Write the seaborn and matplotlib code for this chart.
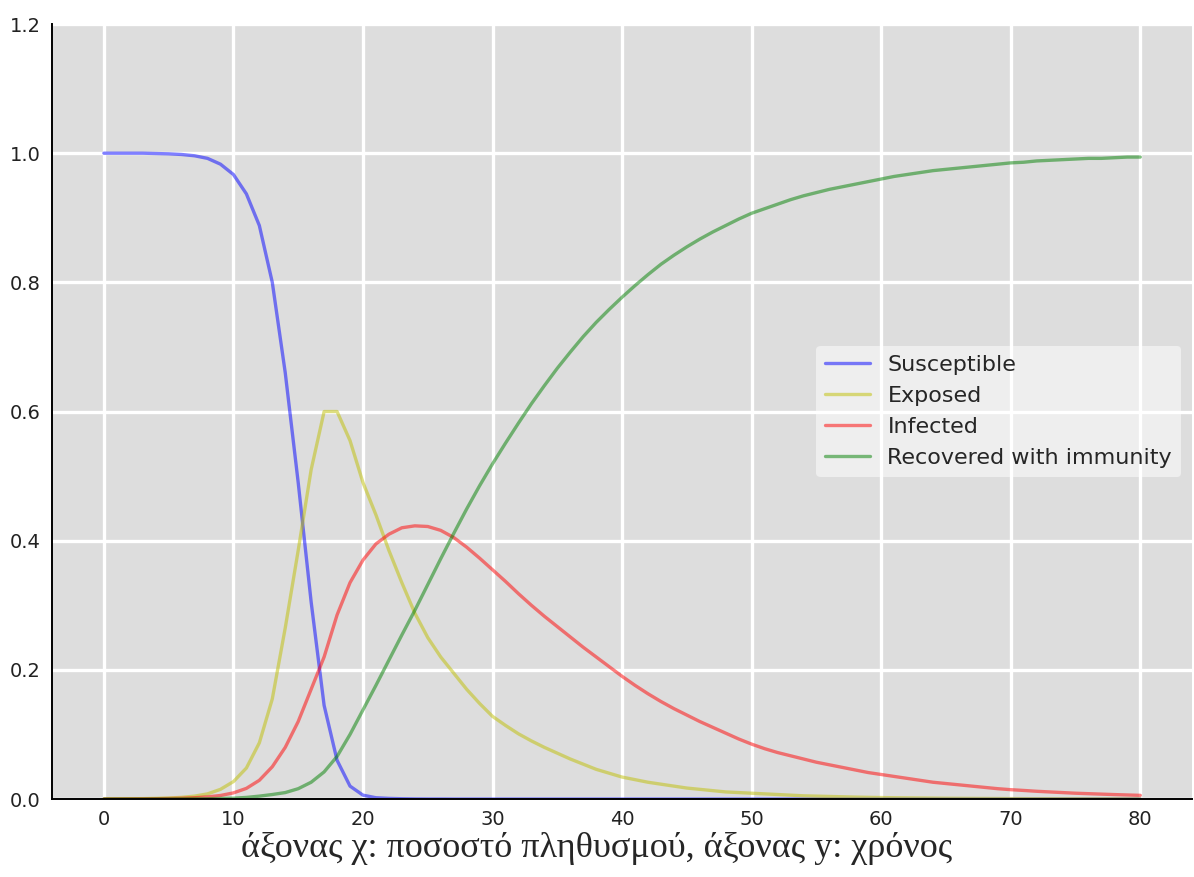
import numpy as np
import pandas as pd
import matplotlib
matplotlib.use("Agg")
import matplotlib.pyplot as plt
import seaborn as sns

# time axis (days)
t = np.arange(0, 81)

susceptible = [
    1.0, 1.0, 1.0, 1.0, 0.9995, 0.999, 0.998, 0.996, 0.992, 0.983,
    0.967, 0.937, 0.888, 0.80, 0.66, 0.49, 0.305, 0.145, 0.06, 0.02,
    0.006, 0.002, 0.001, 0.0005, 0.0002, 0.0001, 0.0001, 0.0, 0.0, 0.0,
    0.0, 0.0, 0.0, 0.0, 0.0, 0.0, 0.0, 0.0, 0.0, 0.0,
    0.0, 0.0, 0.0, 0.0, 0.0, 0.0, 0.0, 0.0, 0.0, 0.0,
    0.0, 0.0, 0.0, 0.0, 0.0, 0.0, 0.0, 0.0, 0.0, 0.0,
    0.0, 0.0, 0.0, 0.0, 0.0, 0.0, 0.0, 0.0, 0.0, 0.0,
    0.0, 0.0, 0.0, 0.0, 0.0, 0.0, 0.0, 0.0, 0.0, 0.0, 0.0,
]

exposed = [
    0.0, 0.0002, 0.0004, 0.0006, 0.001, 0.0016, 0.0026, 0.0045, 0.008, 0.015,
    0.027, 0.048, 0.087, 0.155, 0.265, 0.385, 0.51, 0.60, 0.60, 0.555,
    0.49, 0.44, 0.385, 0.335, 0.288, 0.25, 0.22, 0.195, 0.17, 0.148,
    0.128, 0.114, 0.101, 0.09, 0.08, 0.071, 0.062, 0.054, 0.046, 0.04,
    0.034, 0.03, 0.026, 0.023, 0.02, 0.017, 0.015, 0.013, 0.011, 0.01,
    0.009, 0.008, 0.007, 0.006, 0.005, 0.0045, 0.004, 0.0035, 0.003, 0.0026,
    0.0023, 0.002, 0.0018, 0.0016, 0.0014, 0.0012, 0.0011, 0.001, 0.0009, 0.0008,
    0.0007, 0.0006, 0.0005, 0.0005, 0.0004, 0.0004, 0.0003, 0.0003, 0.0003, 0.0002, 0.0002,
]

infected = [
    0.0, 0.0001, 0.0002, 0.0003, 0.0005, 0.0008, 0.0012, 0.002, 0.0033, 0.0055,
    0.0095, 0.0165, 0.029, 0.05, 0.08, 0.12, 0.17, 0.22, 0.285, 0.335,
    0.37, 0.395, 0.41, 0.42, 0.423, 0.422, 0.416, 0.405, 0.39, 0.373,
    0.355, 0.337, 0.318, 0.30, 0.283, 0.267, 0.251, 0.235, 0.22, 0.205,
    0.19, 0.176, 0.163, 0.151, 0.140, 0.130, 0.120, 0.111, 0.102, 0.093,
    0.085, 0.078, 0.072, 0.067, 0.062, 0.057, 0.053, 0.049, 0.045, 0.041,
    0.038, 0.035, 0.032, 0.029, 0.026, 0.024, 0.022, 0.020, 0.018, 0.016,
    0.0145, 0.0133, 0.012, 0.011, 0.010, 0.009, 0.0083, 0.0076, 0.0069, 0.0063, 0.0057,
]

recovered = [
    0.0, 0.0, 0.0, 0.0, 0.0001, 0.0001, 0.0002, 0.0003, 0.0005, 0.0008,
    0.0013, 0.0025, 0.0045, 0.007, 0.01, 0.016, 0.026, 0.042, 0.066, 0.1,
    0.138, 0.176, 0.215, 0.254, 0.292, 0.332, 0.372, 0.411, 0.449, 0.485,
    0.519, 0.551, 0.582, 0.612, 0.640, 0.667, 0.692, 0.716, 0.738, 0.758,
    0.777, 0.795, 0.812, 0.828, 0.842, 0.855, 0.867, 0.878, 0.888, 0.898,
    0.907, 0.914, 0.921, 0.928, 0.934, 0.939, 0.944, 0.948, 0.952, 0.956,
    0.960, 0.964, 0.967, 0.970, 0.973, 0.975, 0.977, 0.979, 0.981, 0.983,
    0.985, 0.986, 0.988, 0.989, 0.990, 0.991, 0.992, 0.992, 0.993, 0.994, 0.994,
]

labels = ["Susceptible", "Exposed", "Infected", "Recovered with immunity"]
colors = ["b", "y", "r", "g"]
xlabel = "άξονας χ: ποσοστό πληθυσμού, άξονας y: χρόνος"

#%% plot
sns.set_style("darkgrid", {"axes.facecolor": "#dddddd", "grid.color": "white"})
plt.rcParams["font.family"] = ["DejaVu Sans"]

fig = plt.figure(figsize=(11.94, 8.77), dpi=100)
ax = fig.add_axes([0.0436, 0.0889, 0.9548, 0.8837])
ax.set_axisbelow(True)

for series, name, c in zip([susceptible, exposed, infected, recovered], labels, colors):
    sns.lineplot(x=t, y=series, ax=ax, color=c, alpha=0.5, lw=2.4, label=name)

ax.set_ylim(0, 1.2)
ax.set_xticks(np.arange(0, 81, 10))
ax.set_yticks(np.arange(0, 1.21, 0.2))
ax.yaxis.set_major_formatter(matplotlib.ticker.FormatStrFormatter("%.1f"))
ax.grid(True, which="major", color="w", lw=2.4, ls="-")
ax.tick_params(axis="both", length=0, labelsize=14, pad=8, labelcolor="#222222")

for s in ["top", "right"]:
    ax.spines[s].set_visible(False)
for s in ["left", "bottom"]:
    ax.spines[s].set_visible(True)
    ax.spines[s].set_color("black")
    ax.spines[s].set_linewidth(1.4)

leg = ax.legend(loc="center right", fontsize=16, frameon=True, handlelength=2.0)
leg.get_frame().set_facecolor("white")
leg.get_frame().set_alpha(0.5)
leg.get_frame().set_edgecolor("none")
for line in leg.get_lines():
    line.set_linewidth(2.4)

fig.text(0.5, 0.033, xlabel, ha="center", va="center", fontsize=26,
         family=["Liberation Serif", "DejaVu Serif"])

fig.savefig("out.png", dpi=100)
